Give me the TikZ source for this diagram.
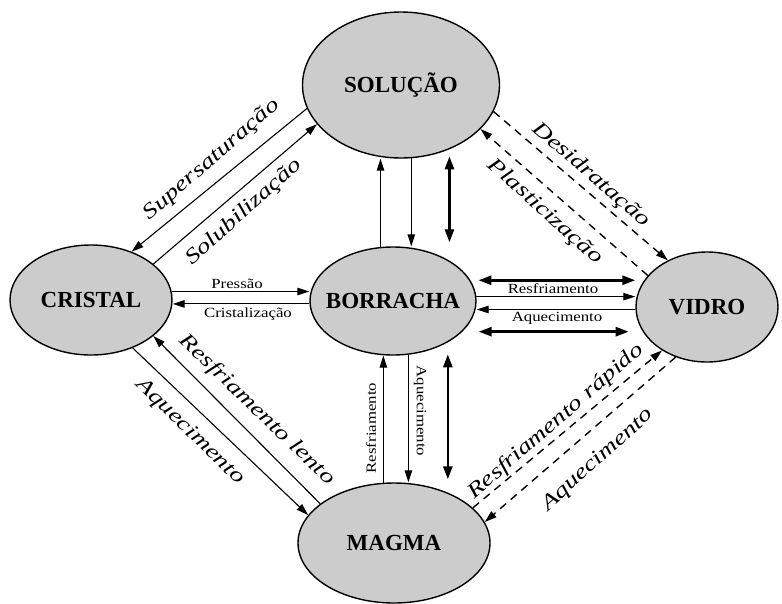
\documentclass[tikz,border=0pt]{standalone}
\usepackage{fontspec}
\setmainfont{Liberation Serif}
\newfontfamily\lblfont[FakeStretch=1.3]{Liberation Serif}
\newfontfamily\smlfont[FakeStretch=1.2]{Liberation Serif}
\usetikzlibrary{shapes.geometric,arrows.meta}
\tikzset{
  state/.style={ellipse, draw=black, line width=1.4pt, fill=black!20, inner sep=0pt,
    font=\fontsize{23}{23}\selectfont\bfseries},
  conn/.style={line width=1.1pt, -{Triangle[length=12pt,width=7.5pt]}},
  dconn/.style={conn, line width=1.4pt, dash pattern=on 8pt off 6pt},
  dbl/.style={line width=2.6pt, {Triangle[length=13pt,width=9pt]}-{Triangle[length=13pt,width=9pt]}},
  diag/.style={font=\lblfont\itshape\fontsize{21}{21}\selectfont, inner sep=0pt},
  hlbl/.style={font=\smlfont\fontsize{14}{14}\selectfont, inner sep=0pt},
}
\begin{document}
\begin{tikzpicture}[x=1pt,y=-1pt]
\useasboundingbox[fill=white] (0,0) rectangle (782,603);
% states
\node[state, minimum width=197pt, minimum height=146pt] (sol) at (401,85) {\makebox[0pt]{SOLUÇÃO}};
\node[state, minimum width=166pt, minimum height=108pt] (bor) at (393,301) {\makebox[0pt]{BORRACHA}};
\node[state, minimum width=162pt, minimum height=110pt] (cri) at (91,300) {\makebox[0pt]{CRISTAL}};
\node[state, minimum width=142pt, minimum height=110pt] (vid) at (707,307) {\makebox[0pt]{VIDRO}};
\node[state, minimum width=192pt, minimum height=120pt] (mag) at (394,543) {\makebox[0pt]{MAGMA}};
% SOL - BOR
\draw[conn] (bor.103) -- (bor.103 |- sol.south);
\draw[conn] (sol.-82) -- (sol.-82 |- bor.north);
\draw[dbl, shorten <=7pt, shorten >=4pt] (sol.-53) -- (sol.-53 |- bor.north);
% BOR - MAG
\draw[conn] (mag.100) -- (mag.100 |- bor.south);
\draw[conn] (bor.-74) -- (bor.-74 |- mag.north);
\draw[dbl, shorten <=12pt, shorten >=3pt] (bor.-37) -- (bor.-37 |- mag.north);
% CRI - BOR
\draw[conn] (cri.6) -- (cri.6 -| bor.west);
\draw[conn] (bor.182) -- (bor.182 -| cri.east);
% BOR - VID
\draw[dbl, shorten <=8pt] (bor.15) -- (bor.15 -| vid.west);
\draw[conn] (bor.3) -- (bor.3 -| vid.west);
\draw[conn] (vid.182) -- (vid.182 -| bor.east);
\draw[dbl, shorten <=14pt, shorten >=2pt] (vid.201) -- (vid.201 -| bor.east);
% diagonals
\draw[conn] (sol.194) -- (cri.50);
\draw[conn] (cri.30) -- (sol.205);
\draw[dconn] (sol.-16) -- (vid.130);
\draw[dconn] (vid.152) -- (sol.-29);
\draw[conn] (cri.-49) -- (mag.162);
\draw[conn] (mag.152) -- (cri.-30);
\draw[dconn] (mag.24) -- (vid.224);
\draw[dconn] (vid.238) -- (mag.13);
% labels
\node[hlbl] (lp) at (237,284) {Pressão};
\node[hlbl] (lc) at (248,314) {Cristalização};
\node[hlbl] (lr) at (553,289) {Resfriamento};
\node[hlbl] (la) at (557,318) {Aquecimento};
\node[hlbl, rotate=90] (lrv) at (371,428) {Resfriamento};
\node[hlbl, rotate=-90] (lav) at (420,411) {Aquecimento};
\node[diag, rotate=41] (ls) at (212,160) {Supersaturação};
\node[diag, rotate=42] (lsol) at (244,212) {Solubilização};
\node[diag, rotate=-41] (ld) at (591,175) {Desidratação};
\node[diag, rotate=-42] (lpl) at (545,212) {Plasticização};
\node[diag, rotate=-44] (lrl) at (257,410) {Resfriamento lento};
\node[diag, rotate=-44] (laq) at (190,432) {Aquecimento};
\node[diag, rotate=41] (lrr) at (556,422) {Resfriamento rápido};
\node[diag, rotate=42] (laq2) at (598,460) {Aquecimento};
\end{tikzpicture}
\end{document}
